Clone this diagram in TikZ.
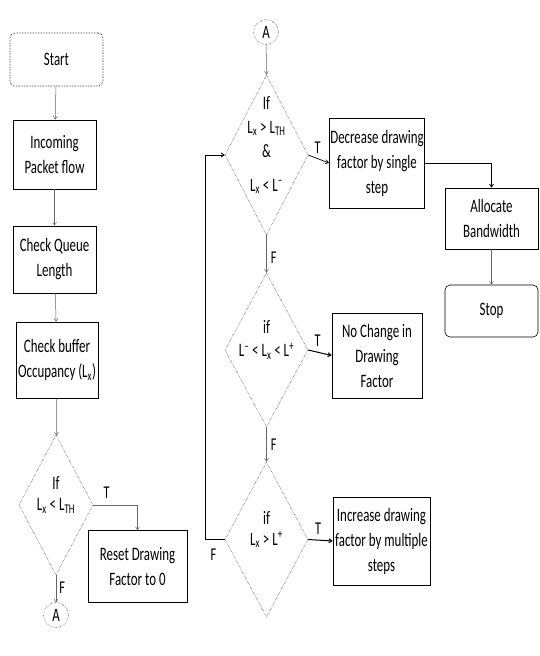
\documentclass[tikz,border=0pt]{standalone}
\usepackage{fontspec}
\setmainfont[FakeStretch=0.68]{Carlito}
\usetikzlibrary{arrows.meta,shapes.geometric}

\begin{document}
\begin{tikzpicture}[x=1pt,y=-1pt,>={Straight Barb[length=3pt,width=4pt]},
	font=\fontsize{19}{25}\selectfont,
	box/.style={draw,rectangle,line width=0.6pt,align=center,inner sep=1pt},
	term/.style={box,rounded corners=5pt},
	decision/.style={draw,diamond,densely dotted,inner sep=0pt,
		label={[align=center,yshift=10pt]center:{#1}}},
	conn/.style={draw,circle,densely dotted,minimum size=25pt,inner sep=0pt},
	flow/.style={->,black!60,line width=0.5pt},
	tf/.style={text=black,font=\fontsize{18}{18}\selectfont,inner sep=1pt}]
	\useasboundingbox (0,0) rectangle (539,656);

	% left column
	\node[term,densely dotted,minimum width=93pt,minimum height=53pt] (start) at (56.5,59.5) {Start};
	\node[box,minimum width=83pt,minimum height=69pt] (inflow) at (54.5,154.5) {Incoming\\Packet flow};
	\node[box,minimum width=83pt,minimum height=67pt] (queue) at (54.5,259.5) {Check Queue\\Length};
	\node[box,minimum width=82pt,minimum height=76pt] (occup) at (57,360) {Check buffer\\Occupancy (L\textsubscript{x})};
	\node[decision={If\\[-4pt]L\textsubscript{x} < L\textsubscript{TH}},minimum width=74pt,minimum height=140pt] (d1) at (56,505) {};
	\node[box,minimum width=99pt,minimum height=72pt] (reset) at (137.5,566.5) {Reset Drawing\\Factor to 0};
	\node[conn] (a1) at (56,615) {A};

	% middle column
	\node[conn] (a2) at (266,32) {A};
	\node[decision={If\\[-1pt]L\textsubscript{x} > L\textsubscript{TH}\\[-1pt]\&\\[9pt]L\textsubscript{x} < L\textsuperscript{--}},
		minimum width=83pt,minimum height=160pt] (d2) at (266.5,155) {};
	\node[box,minimum width=90pt,minimum height=90pt] (dec) at (377,163) {Decrease drawing\\factor by single\\step};
	\node[decision={if\\[-2pt]L\textsuperscript{--} < L\textsubscript{x} < L\textsuperscript{+}},
		minimum width=83pt,minimum height=154pt] (d3) at (266.5,350) {};
	\node[box,minimum width=90pt,minimum height=85pt] (nochg) at (377,355.5) {No Change in\\Drawing\\Factor};
	\node[decision={if\\[-4pt]L\textsubscript{x} > L\textsuperscript{+}},
		minimum width=83pt,minimum height=155pt] (d4) at (266.5,539.5) {};
	\node[box,minimum width=97pt,minimum height=88pt] (inc) at (381.5,541) {Increase drawing\\factor by multiple\\steps};

	% right column
	\node[box,minimum width=93pt,minimum height=61pt] (alloc) at (491.5,218.5) {Allocate\\Bandwidth};
	\node[term,minimum width=93pt,minimum height=52pt] (stop) at (491.5,311) {Stop};

	% connectors
	\draw[flow] (start) -- (inflow);
	\draw[flow] (inflow) -- (queue);
	\draw[flow] (queue) -- (occup);
	\draw[flow] (occup) -- (d1);
	\draw[flow] (d1.east) -| node[tf,pos=0.15,above=5pt] (t1) {T} (reset.north);
	\draw[flow] (d1.south) -- node[tf,right=2pt,pos=0.45] (f1) {F} (a1);
	\draw[flow] (a2) -- (d2.north);
	\draw[flow,black,line width=0.7pt] (d2.east) -- node[tf,above=4pt,pos=0.45] (t2) {T} (dec.west);
	\draw[flow,black,line width=0.7pt] (dec.east) -| (alloc.north);
	\draw[flow] (d2.south) -- node[tf,right=3pt,pos=0.6] (f2) {F} (d3.north);
	\draw[flow,black,line width=1pt] (d3.east) -- node[tf,above=4pt,pos=0.4] (t3) {T} (nochg.west);
	\draw[flow] (d3.south) -- node[tf,right=3pt,pos=0.5] (f3) {F} (d4.north);
	\draw[flow,black,line width=1pt] (d4.east) -- node[tf,above=4pt,pos=0.4] (t4) {T} (inc.west);
	\draw[flow,black,line width=0.8pt] (d4.west) -- node[tf,below=8pt,pos=0.6] (f4) {F} ++(-19,0) |- (d2.west);
	\draw[flow] (alloc) -- (stop);
\end{tikzpicture}
\end{document}
